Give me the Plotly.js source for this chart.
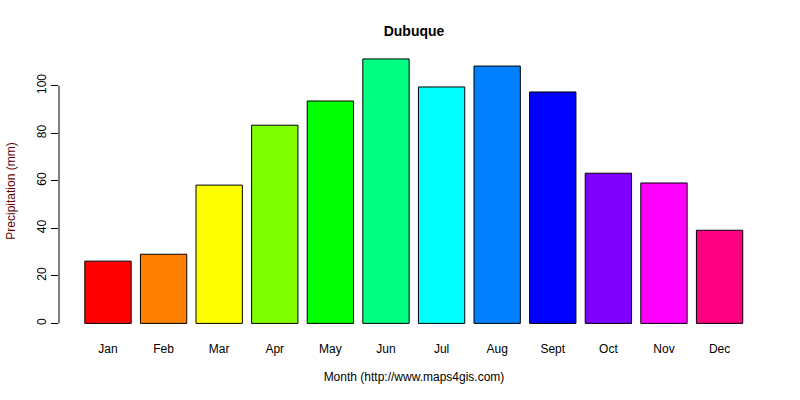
<!DOCTYPE html>
<html>
<head>
<meta charset="utf-8">
<script src="https://cdn.plot.ly/plotly-3.0.1.min.js"></script>
<style>html,body{margin:0;padding:0;background:#fff}#chart{width:800px;height:400px}</style>
</head>
<body>
<div id="chart"></div>
<script>
var months = ["Jan","Feb","Mar","Apr","May","Jun","Jul","Aug","Sept","Oct","Nov","Dec"];
var precipitation = [26.2, 29.1, 58.2, 83.4, 93.6, 111.3, 99.5, 108.3, 97.4, 63.2, 59.1, 39.2];
var barColors = ["#FF0000","#FF8000","#FFFF00","#80FF00","#00FF00","#00FF80","#00FFFF","#0080FF","#0000FF","#8000FF","#FF00FF","#FF0080"];
var yTicks = [0, 20, 40, 60, 80, 100];

var font = "Liberation Sans, Arial, sans-serif";
var trace = {
  type: "bar",
  x: months,
  y: precipitation,
  marker: {color: barColors, line: {color: "#000", width: 1}},
  hoverinfo: "x+y"
};
var layout = {
  width: 800, height: 400,
  margin: {l: 59, r: 31, t: 48, b: 66},
  paper_bgcolor: "#fff", plot_bgcolor: "#fff",
  bargap: 0.2/1.2,
  showlegend: false,
  font: {family: font, size: 12, color: "#000"},
  title: {text: "<b>Dubuque</b>", x: 0.5175, xanchor: "center", y: 0.922, yanchor: "middle", font: {family: font, size: 14, color: "#000"}},
  xaxis: {
    type: "category",
    range: [-0.881, 11.889],
    showline: false, showgrid: false, zeroline: false,
    ticks: "", ticklabelstandoff: 6,
    tickfont: {family: font, size: 12, color: "#000"},
    title: {text: "Month (http://www.maps4gis.com)", standoff: 17, font: {family: font, size: 12, color: "#000"}}
  },
  yaxis: {
    range: [-4.46, 115.9],
    tickvals: yTicks, ticktext: yTicks.map(String),
    tickangle: -90,
    showline: false, showgrid: false, zeroline: false,
    ticks: "outside", ticklen: 7, tickwidth: 1, tickcolor: "#000",
    tickfont: {family: font, size: 12, color: "#000"},
    title: {text: "Precipitation (mm)", standoff: 17, font: {family: font, size: 12, color: "#660000"}}
  },
  shapes: [{type: "line", xref: "paper", yref: "y", x0: 0, x1: 0, y0: yTicks[0], y1: yTicks[yTicks.length-1], line: {color: "#000", width: 1}}]
};
Plotly.newPlot("chart", [trace], layout, {staticPlot: true, displayModeBar: false});
</script>
</body>
</html>
